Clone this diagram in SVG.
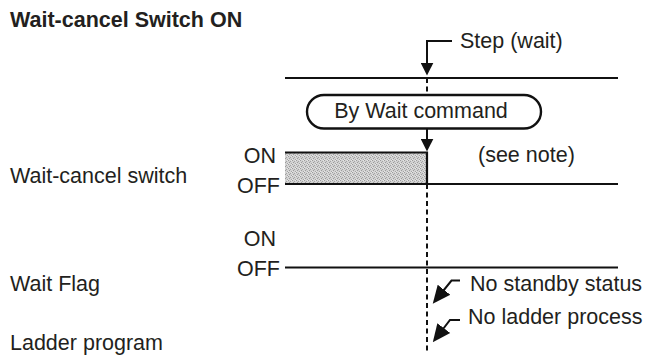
<svg xmlns="http://www.w3.org/2000/svg" width="645" height="358" viewBox="0 0 645 358">
<style>
text{font-family:"Liberation Sans",Arial,Helvetica,sans-serif;font-size:21.5px;fill:#231f20}
.title{font-weight:bold;font-size:21.5px}
.sig{stroke:#111;stroke-width:2.2;fill:none}
.conn{stroke:#111;stroke-width:2;fill:none}
.dash{stroke:#111;stroke-width:2;fill:none;stroke-dasharray:5 3.5}
</style>
<defs>
<marker id="ah" viewBox="0 0 10 10" markerWidth="13" markerHeight="13" markerUnits="userSpaceOnUse" refX="8" refY="5" orient="auto">
<path d="M0,0 L10,5 L0,10 z" fill="#111"/>
</marker>
<marker id="ahd" viewBox="0 0 10 10" markerWidth="18" markerHeight="18" markerUnits="userSpaceOnUse" refX="8" refY="5" orient="auto">
<path d="M0,0.5 L10,5 L0,9.5 z" fill="#111"/>
</marker>
<pattern id="dither" width="4" height="4" patternUnits="userSpaceOnUse">
<rect width="4" height="4" fill="#d2d2d2"/>
<rect x="0" y="0" width="1" height="1" fill="#9c9c9c"/>
<rect x="2" y="1" width="1" height="1" fill="#a4a4a4"/>
<rect x="1" y="2" width="1" height="1" fill="#9c9c9c"/>
<rect x="3" y="3" width="1" height="1" fill="#a4a4a4"/>
<rect x="3" y="0" width="1" height="1" fill="#e6e6e6"/>
<rect x="0" y="3" width="1" height="1" fill="#e6e6e6"/>
</pattern>
</defs>
<rect width="645" height="358" fill="#fff"/>

<g id="title"><text class="title" x="10" y="27">Wait-cancel Switch ON</text></g>

<g id="labels">
<text x="10" y="183">Wait-cancel switch</text>
<text x="10" y="291">Wait Flag</text>
<text x="10" y="350">Ladder program</text>
</g>

<g id="wait-cancel-switch">
<rect x="285" y="152.5" width="142" height="31.5" fill="url(#dither)"/>
<text x="276" y="163" text-anchor="end">ON</text>
<text x="280" y="193" text-anchor="end">OFF</text>
<path class="sig" d="M285,152.5 H427 V184 M285,184 H618"/>
<text x="478" y="162">(see note)</text>
</g>

<g id="wait-flag">
<text x="276" y="246" text-anchor="end">ON</text>
<text x="280" y="276" text-anchor="end">OFF</text>
<path class="sig" d="M285,267.5 H618"/>
</g>

<g id="step-line">
<path class="sig" d="M285,78 H618"/>
</g>

<g id="by-wait-command">
<rect x="307" y="95" width="234" height="33.5" rx="17" ry="16.75" fill="#fff" stroke="#111" stroke-width="2.4"/>
<text x="421" y="118" text-anchor="middle">By Wait command</text>
</g>

<g id="connectors">
<path class="dash" d="M427,78 V95"/>
<path class="dash" d="M427,184 V352"/>
<path class="conn" d="M452,41 H427 V73" marker-end="url(#ah)"/>
<path class="conn" d="M427,128.5 V149" marker-end="url(#ah)"/>
<path class="conn" d="M460,280.5 H451.5 L435,301" marker-end="url(#ahd)"/>
<path class="conn" d="M460,320 H450 L435,339.5" marker-end="url(#ahd)"/>
</g>

<g id="annotations">
<text x="460" y="48">Step (wait)</text>
<text x="470" y="291">No standby status</text>
<text x="468" y="324">No ladder process</text>
</g>
</svg>
